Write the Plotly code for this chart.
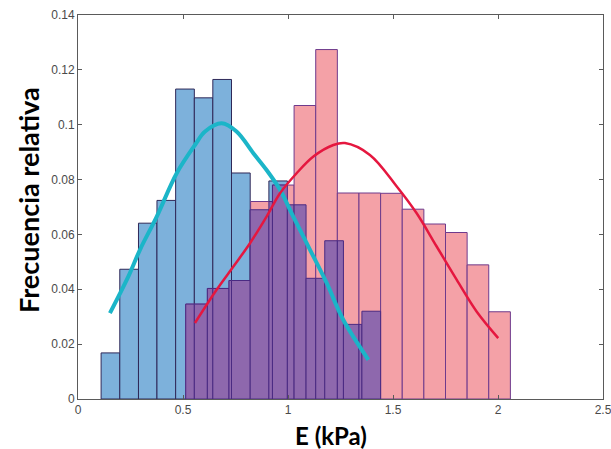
import plotly.graph_objects as go

# ---------------- data ----------------
blue_edges = [0.110, 0.199, 0.288, 0.376, 0.465, 0.554, 0.642, 0.731,
              0.820, 0.909, 0.997, 1.086, 1.175, 1.264, 1.352, 1.441]
blue_freq = [0.0168, 0.0473, 0.0641, 0.0724, 0.1130, 0.1098, 0.1165, 0.0824,
             0.0690, 0.0795, 0.0708, 0.0440, 0.0577, 0.0272, 0.0320]

pink_edges = [0.513, 0.616, 0.719, 0.822, 0.926, 1.029, 1.132, 1.235,
              1.338, 1.441, 1.544, 1.647, 1.750, 1.853, 1.956, 2.059]
pink_freq = [0.0346, 0.0403, 0.0432, 0.0720, 0.0780, 0.1070, 0.1274, 0.0751,
             0.0751, 0.0750, 0.0692, 0.0638, 0.0607, 0.0489, 0.0318]

cyan_x = [0.152, 0.240, 0.295, 0.375, 0.470, 0.557, 0.605, 0.684, 0.755,
          0.835, 0.898, 0.962, 1.025, 1.105, 1.184, 1.263, 1.383]
cyan_y = [0.0313, 0.0447, 0.0544, 0.0665, 0.0823, 0.0926, 0.0975, 0.1005, 0.0975,
          0.0896, 0.0835, 0.0763, 0.0665, 0.0544, 0.0423, 0.0289, 0.0143]

red_x = [0.557, 0.660, 0.740, 0.819, 0.898, 0.962, 1.041, 1.121, 1.216,
         1.271, 1.390, 1.518, 1.612, 1.708, 1.803, 1.898, 2.001]
red_y = [0.0277, 0.0398, 0.0483, 0.0568, 0.0665, 0.0750, 0.0823, 0.0884, 0.0926,
         0.0933, 0.0890, 0.0775, 0.0678, 0.0556, 0.0435, 0.0319, 0.0222]

x_ticks = [0, 0.5, 1, 1.5, 2, 2.5]
x_ticklabels = ["0", "0.5", "1", "1.5", "2", "2.5"]
y_ticks = [0, 0.02, 0.04, 0.06, 0.08, 0.10, 0.12, 0.14]
y_ticklabels = ["0", "0.02", "0.04", "0.06", "0.08", "0.1", "0.12", "0.14"]

x_title = "E (kPa)"
y_title = "Frecuencia relativa"


# ---------------- helpers ----------------
def bars_from_edges(edges, freq):
    centers = [(edges[i] + edges[i + 1]) / 2 for i in range(len(freq))]
    widths = [edges[i + 1] - edges[i] for i in range(len(freq))]
    return centers, widths


def lookup(edges, freq, x):
    for i in range(len(freq)):
        if edges[i] <= x < edges[i + 1]:
            return freq[i]
    return None


# overlap region (both histograms present) -> drawn in purple
lo = max(blue_edges[0], pink_edges[0])
hi = min(blue_edges[-1], pink_edges[-1])
all_edges = sorted(e for e in set(blue_edges + pink_edges) if lo - 1e-9 <= e <= hi + 1e-9)
merged = []
for e in all_edges:
    if not merged or e - merged[-1] > 0.004:
        merged.append(e)
ov_c, ov_w, ov_h = [], [], []
for a, b in zip(merged[:-1], merged[1:]):
    m = (a + b) / 2
    hb = lookup(blue_edges, blue_freq, m)
    hp = lookup(pink_edges, pink_freq, m)
    if hb is None or hp is None:
        continue
    ov_c.append(m)
    ov_w.append(b - a)
    ov_h.append(min(hb, hp))

bc, bw = bars_from_edges(blue_edges, blue_freq)
pc, pw = bars_from_edges(pink_edges, pink_freq)

fig = go.Figure()
fig.add_trace(go.Bar(x=bc, y=blue_freq, width=bw, marker=dict(
    color="#7DB1DB", line=dict(color="#2F2858", width=1)), showlegend=False))
fig.add_trace(go.Bar(x=pc, y=pink_freq, width=pw, marker=dict(
    color="#F4A1A7", line=dict(color="#6E3A8C", width=1)), showlegend=False))
fig.add_trace(go.Bar(x=ov_c, y=ov_h, width=ov_w, marker=dict(
    color="#8E68AD", line=dict(color="#4A2A82", width=1)), showlegend=False))

fig.add_trace(go.Scatter(x=cyan_x, y=cyan_y, mode="lines",
                         line=dict(color="#1BB5C8", width=4, shape="spline"),
                         showlegend=False))
fig.add_trace(go.Scatter(x=red_x, y=red_y, mode="lines",
                         line=dict(color="#E5173F", width=2.5, shape="spline"),
                         showlegend=False))

axis_common = dict(
    showline=True, mirror="ticks", linecolor="#5A5A5A", linewidth=1,
    ticks="inside", ticklen=4, tickcolor="#5A5A5A", showgrid=False,
    zeroline=False, automargin=False, ticklabeloverflow="allow",
    tickfont=dict(family="Liberation Sans, Arial, sans-serif", size=12, color="#4A4A4A"),
)

fig.update_layout(
    width=611, height=449,
    margin=dict(l=78, r=8, t=15, b=50),
    paper_bgcolor="white", plot_bgcolor="white",
    barmode="overlay",
    xaxis=dict(range=[0, 2.5], tickvals=x_ticks, ticktext=x_ticklabels, **axis_common),
    yaxis=dict(range=[0, 0.14], tickvals=y_ticks, ticktext=y_ticklabels, **axis_common),
    annotations=[
        dict(text="<b>" + x_title + "</b>", xref="paper", yref="paper",
             x=0.482, y=0, yshift=-36, xanchor="center", yanchor="middle",
             showarrow=False, font=dict(family="Lato, Open Sans, sans-serif", size=24, color="black")),
        dict(text="<b>" + y_title + "</b>", xref="paper", yref="paper",
             x=0, xshift=-50, y=0.5, yshift=7, xanchor="center", yanchor="middle",
             textangle=-90, showarrow=False,
             font=dict(family="Lato, Open Sans, sans-serif", size=27, color="black")),
    ],
)

fig.write_html("out.html", config={"displayModeBar": False},
               post_script="document.body.style.margin='0';document.body.style.overflow='hidden';")
